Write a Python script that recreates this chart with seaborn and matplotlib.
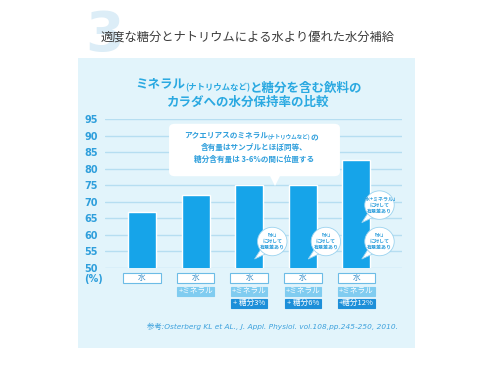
import matplotlib
matplotlib.use('Agg')
import matplotlib.pyplot as plt
import matplotlib.patches as mpatches
from matplotlib.transforms import blended_transform_factory
import pandas as pd
import seaborn as sns

# data
drinks = ['水', '水+ミネラル', '水+ミネラル+糖分3%', '水+ミネラル+糖分6%', '水+ミネラル+糖分12%']
retention = [67, 72, 75, 75, 82.5]
yticks = [50, 55, 60, 65, 70, 75, 80, 85, 90, 95]
row_water = ['水', '水', '水', '水', '水']
row_mineral = ['', '+ミネラル', '+ミネラル', '+ミネラル', '+ミネラル']
row_sugar = ['', '', '+ 糖分3%', '+ 糖分6%', '+糖分12%']
# (bar index, value level of the bubble, text)
sig_notes = [
    (2, 58, '「水」\nに対して\n有意差あり'),
    (3, 58, '「水」\nに対して\n有意差あり'),
    (4, 58, '「水」\nに対して\n有意差あり'),
    (4, 69, '「水+ミネラル」\nに対して\n有意差あり'),
]

title = '適度な糖分とナトリウムによる水より優れた水分補給'
heading = [('ミネラル', 9), ('(ナトリウムなど)', 6), ('と糖分を含む飲料の', 9)]
heading2 = 'カラダへの水分保持率の比較'
callout = [('アクエリアスのミネラル', 5.5), ('(ナトリウムなど)', 4.0), ('の', 5.5)]
callout2 = '含有量はサンプルとほぼ同等、'
callout3 = '糖分含有量は 3-6%の間に位置する'
source = '参考:Osterberg KL et AL., J. Appl. Physiol. vol.108,pp.245-250, 2010.'

BLUE = '#16a4e9'
TEXT_BLUE = '#2f9fdc'
W, H = 490, 368

sns.set_style('white')
plt.rcParams['font.family'] = ['Noto Sans CJK JP', 'DejaVu Sans']

fig = plt.figure(figsize=(W / 100, H / 100), dpi=100)
fig.patch.set_facecolor('white')


def fx(px):
    return px / W


def fy(py):
    return 1 - py / H


# light blue panel behind the chart
fig.add_artist(mpatches.Rectangle((fx(78), fy(348)), fx(337), 290 / H,
                                  transform=fig.transFigure, facecolor='#e2f4fb',
                                  edgecolor='none', zorder=0))

# big pale "3" and page title
fig.text(fx(105), fy(36), '3', fontsize=40, fontweight='bold', color='#dcedf7',
         ha='center', va='center', family='DejaVu Sans', zorder=1)
fig.text(fx(248), fy(37), title, fontsize=8.8, color='#3a3a3a',
         ha='center', va='center', zorder=2)

ax = fig.add_axes([fx(105), fy(268), (402 - 105) / W, (268 - 119) / H])
ax.set_facecolor('none')

df = pd.DataFrame({'drink': drinks, 'retention': retention})
sns.barplot(data=df, x='drink', y='retention', color=BLUE, saturation=1,
            width=0.52, ax=ax, zorder=3)

ax.set_ylim(50, 95)
ax.set_xlim(-0.69, 4.85)
ax.set_yticks(yticks)
ax.set_yticklabels([str(t) for t in yticks], fontsize=7, fontweight='bold',
                   color=TEXT_BLUE, family='DejaVu Sans')
ax.tick_params(axis='y', length=0, pad=5)
ax.set_xticks([])
ax.set_xlabel('')
ax.set_ylabel('')
for s in ax.spines.values():
    s.set_visible(False)
ax.yaxis.grid(True, color='#b6def1', linewidth=1)
ax.set_axisbelow(True)

fig.text(fx(93), fy(279), '(%)', fontsize=7, fontweight='bold', color=TEXT_BLUE,
         ha='center', va='center', family='DejaVu Sans')


def text_run(parts, x, y, zorder, **kw):
    # pieces of different size written one after another on one baseline
    prev = ax.text(x, y, parts[0][0], fontsize=parts[0][1], ha='left', va='baseline',
                   transform=fig.transFigure, zorder=zorder, **kw)
    for s, size in parts[1:]:
        prev = ax.annotate(s, xy=(1, 0), xycoords=prev, fontsize=size, ha='left',
                           va='baseline', annotation_clip=False, zorder=zorder, **kw)


# panel heading (two lines, smaller bracket part)
head_kw = dict(color='#2aa9e1', fontweight='bold')
text_run(heading, fx(135), fy(87), 2, **head_kw)
fig.text(fx(248), fy(102), heading2, fontsize=9, ha='center', va='center', **head_kw)

# label boxes under the bars
tr = blended_transform_factory(ax.transData, fig.transFigure)
rows = [
    (row_water, 278, 10, 'white', '#6cbce6', '#3b8fc8', 0.70),
    (row_mineral, 291, 9, '#80ccf0', '#80ccf0', 'white', 0.68),
    (row_sugar, 303, 9, '#1d8fd9', '#1d8fd9', 'white', 0.68),
]
for labels, py, h, fc, ec, tc, bw in rows:
    for i, lab in enumerate(labels):
        if not lab:
            continue
        ax.add_patch(mpatches.Rectangle((i - bw / 2, fy(py + h / 2)), bw, h / H,
                                        transform=tr, facecolor=fc, edgecolor=ec,
                                        linewidth=0.8, clip_on=False, zorder=4))
        ax.text(i, fy(py), lab, transform=tr, fontsize=5.5, color=tc,
                ha='center', va='center', clip_on=False, zorder=5)

# callout box with pointer
ax.add_patch(mpatches.FancyBboxPatch((fx(172), fy(174)), fx(165), 48 / H,
                                     boxstyle='round,pad=0.006,rounding_size=0.012',
                                     transform=fig.transFigure, facecolor='white',
                                     edgecolor='none', clip_on=False, zorder=6))
ax.add_patch(mpatches.Polygon([(fx(270), fy(176)), (fx(280), fy(176)), (fx(275), fy(186))],
                              closed=True, transform=fig.transFigure, facecolor='white',
                              edgecolor='none', clip_on=False, zorder=6))
call_kw = dict(color=TEXT_BLUE, fontweight='bold')
text_run(callout, fx(184), fy(137), 7, **call_kw)
ax.text(fx(254), fy(147), callout2, fontsize=5.5, ha='center', va='center',
        transform=fig.transFigure, zorder=7, **call_kw)
ax.text(fx(254), fy(159), callout3, fontsize=5.5, ha='center', va='center',
        transform=fig.transFigure, zorder=7, **call_kw)

# significance bubbles
for i, level, note in sig_notes:
    cx = i + 0.43
    ax.add_patch(mpatches.Polygon([(cx - 0.2, level - 2.0), (cx - 0.08, level - 3.4),
                                   (cx - 0.33, level - 5.3)],
                                  closed=True, facecolor='white', edgecolor='#9bd3ef',
                                  linewidth=0.6, clip_on=False, zorder=7))
    ax.add_patch(mpatches.Ellipse((cx, level), 0.55, 8.6, facecolor='white',
                                  edgecolor='#9bd3ef', linewidth=0.6,
                                  clip_on=False, zorder=8))
    ax.text(cx, level, note, fontsize=3.6, color=TEXT_BLUE, fontweight='bold',
            ha='center', va='center', linespacing=1.2, zorder=9)

fig.text(fx(272), fy(326), source, fontsize=5.3, color='#3da1dc', style='italic',
         ha='center', va='center', family=['DejaVu Sans', 'Noto Sans CJK JP'])

fig.savefig('out.png', dpi=100, facecolor=fig.get_facecolor())
